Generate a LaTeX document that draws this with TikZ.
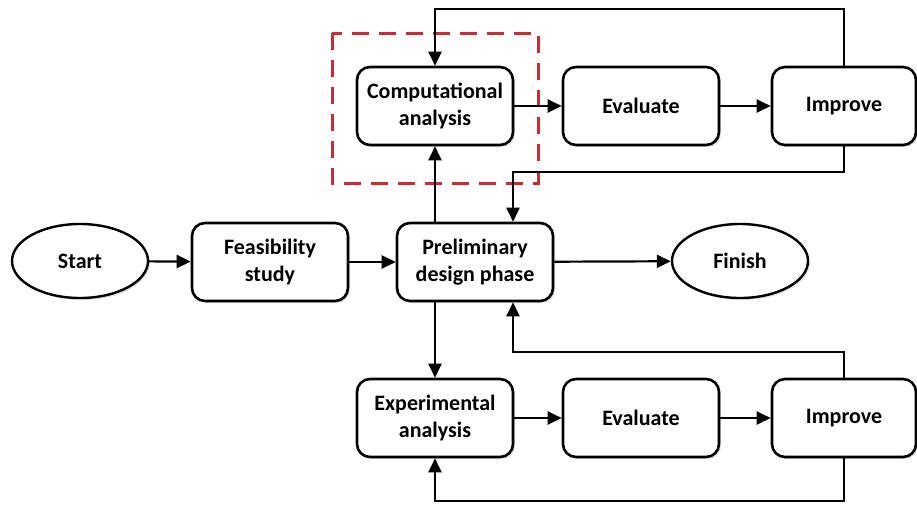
\documentclass[tikz,border=0pt]{standalone}
\usepackage{fontspec}
\setmainfont{Carlito}
\usetikzlibrary{arrows.meta,shadows,shapes.geometric,calc}
\definecolor{dashred}{RGB}{200,45,55}
\begin{document}
\begin{tikzpicture}[x=1pt,y=-1pt,
  txt/.style={font=\fontsize{22}{27}\selectfont\bfseries, align=center},
  box/.style={txt, draw=black, line width=2.6pt, rounded corners=13pt, fill=white,
    minimum width=156pt, minimum height=78pt, inner sep=2pt,
    drop shadow={shadow xshift=2pt, shadow yshift=-2pt, opacity=0.25}},
  ov/.style={txt, ellipse, draw=black, line width=2.4pt, fill=white,
    minimum width=136pt, minimum height=74pt, inner sep=0pt,
    drop shadow={shadow xshift=2pt, shadow yshift=-2pt, opacity=0.25}},
  conn/.style={line width=2.2pt, -{Triangle[length=14pt,width=13pt]}},
  focus/.style={draw=dashred, line width=3pt, dash pattern=on 17pt off 10pt}
]
\useasboundingbox (0,0) rectangle (917,506);

% focus frame
\draw[focus] (332,33) rectangle (538,183);

% nodes
\node[box] (comp)  at (435,106) {Computational\\analysis};
\node[box] (eval1) at (641,106) {Evaluate};
\node[box, minimum width=144pt] (imp1) at (844,106) {Improve};

\node[ov]  (start)  at (80,261)  {Start};
\node[box] (feas)   at (270,262) {Feasibility\\study};
\node[box] (prelim) at (475,262) {Preliminary\\design phase};
\node[ov]  (finish) at (740,261) {Finish};

\node[box] (exp)   at (435,418) {Experimental\\analysis};
\node[box] (eval2) at (641,418) {Evaluate};
\node[box, minimum width=144pt] (imp2) at (844,418) {Improve};

% helper coordinates
\coordinate (topL) at (435,9);
\coordinate (m1)   at (513,172);
\coordinate (m2)   at (513,352);
\coordinate (botL) at (435,501);

% connectors
\draw[conn] (start) -- (feas);
\draw[conn] (feas) -- (prelim);
\draw[conn] (prelim) -- (finish);
\draw[conn] (prelim.north -| comp.south) -- (comp.south);
\draw[conn] (prelim.south -| exp.north) -- (exp.north);
\draw[conn] (comp) -- (eval1);
\draw[conn] (eval1) -- (imp1);
\draw[conn] (exp) -- (eval2);
\draw[conn] (eval2) -- (imp2);

\draw[conn] (imp1.north) |- (topL) -- (comp.north);
\draw[conn] (imp1.south) |- (m1) -- (m1 |- prelim.north);
\draw[conn] (imp2.north) |- (m2) -- (m2 |- prelim.south);
\draw[conn] (imp2.south) |- (botL) -- (exp.south);
\end{tikzpicture}
\end{document}
